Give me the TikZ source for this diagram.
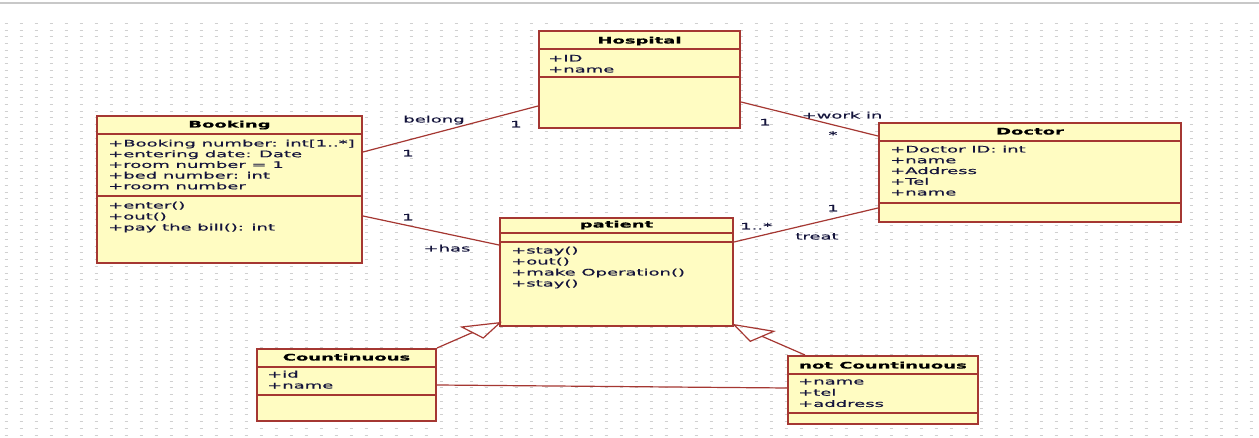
\documentclass[tikz,border=0pt]{standalone}
\usepackage{fontspec}
\newfontfamily\umlfont{DejaVu Sans}[FakeStretch=2,FakeBold=0.5]
\usetikzlibrary{calc}
\definecolor{boxred}{RGB}{165,55,50}
\definecolor{boxfill}{RGB}{255,252,194}
\definecolor{txt}{RGB}{20,20,60}
\definecolor{dotgray}{RGB}{208,208,208}
\definecolor{topgray}{RGB}{200,200,200}
\begin{document}
\begin{tikzpicture}[x=1pt,y=-1pt,
  cls/.style={draw=boxred,fill=boxfill,line width=2pt,anchor=north west,inner sep=0pt},
  sep/.style={draw=boxred,line width=1.3pt},
  conn/.style={draw=boxred,line width=1.2pt},
  ttl/.style={anchor=base,inner sep=0pt,font=\umlfont\bfseries\fontsize{9}{10}\selectfont,text=black},
  item/.style={anchor=base west,inner sep=0pt,font=\umlfont\fontsize{9}{10}\selectfont,text=txt},
  lbl/.style={anchor=base,inner sep=0pt,font=\umlfont\fontsize{9}{10}\selectfont,text=txt},
  griddot/.style={draw=dotgray,line width=1pt,dash pattern=on 3pt off 12pt}]
\useasboundingbox (0,0) rectangle (1259,438);
\fill[white] (0,0) rectangle (1259,438);
\draw[topgray,line width=1.5pt] (0,3) -- (1259,3);
\foreach \r in {0,...,61} \draw[griddot] (4.5,{23.3+6.75*\r}) -- (1259,{23.3+6.75*\r});

% class boxes
\node[cls,minimum width=201pt,minimum height=97pt] (hospital) at (538,30) {};
\node[cls,minimum width=265pt,minimum height=147pt] (booking) at (96,115) {};
\node[cls,minimum width=302pt,minimum height=99pt] (doctor) at (878,122) {};
\node[cls,minimum width=233pt,minimum height=108pt] (patient) at (499,217) {};
\node[cls,minimum width=179pt,minimum height=72pt] (cont) at (256,348) {};
\node[cls,minimum width=190pt,minimum height=68pt] (notcont) at (787,355) {};

% separators
\foreach \b/\a/\c in {hospital/19/47,booking/19/81,doctor/19/81,patient/16/25,cont/19/47,notcont/19/58}{
  \draw[sep] ($(\b.north west)+(0,\a)$) -- ($(\b.north east)+(0,\a)$);
  \draw[sep] ($(\b.north west)+(0,\c)$) -- ($(\b.north east)+(0,\c)$);
}

% titles
\node[ttl] (hospitalT) at ($(hospital.north)+(0,13.5)$) {Hospital};
\node[ttl] (bookingT) at ($(booking.north)+(0,12.5)$) {Booking};
\node[ttl] (doctorT) at ($(doctor.north)+(0,12.5)$) {Doctor};
\node[ttl] (patientT) at ($(patient.north)+(0,10.5)$) {patient};
\node[ttl] (contT) at ($(cont.north)+(0,12.5)$) {Countinuous};
\node[ttl] (notcontT) at ($(notcont.north)+(0,13.5)$) {not Countinuous};

% items
\foreach \t [count=\i] in {{+ID},{+name}}
  \node[item] (ho\i) at (548,{61.5+11*(\i-1)}) {\t};
\foreach \t [count=\i] in {{+Booking number: int[1..*]},{+entering date: Date},{+room number = 1},{+bed number: int},{+room number}}
  \node[item] (bka\i) at (108,{146.5+10.7*(\i-1)}) {\t};
\foreach \t [count=\i] in {{+enter()},{+out()},{+pay the bill(): int}}
  \node[item] (bkm\i) at (108,{208.5+11*(\i-1)}) {\t};
\foreach \t [count=\i] in {{+Doctor ID: int},{+name},{+Address},{+Tel},{+name}}
  \node[item] (do\i) at (890,{152.5+10.75*(\i-1)}) {\t};
\foreach \t [count=\i] in {{+stay()},{+out()},{+make Operation()},{+stay()}}
  \node[item] (pa\i) at (511,{253.5+11*(\i-1)}) {\t};
\foreach \t [count=\i] in {{+id},{+name}}
  \node[item] (co\i) at (267,{377.5+11*(\i-1)}) {\t};
\foreach \t [count=\i] in {{+name},{+tel},{+address}}
  \node[item] (nc\i) at (798,{384.5+11.2*(\i-1)}) {\t};

% associations
\draw[conn] ($(booking.north east)+(0,37)$) -- ($(hospital.north west)+(0,76)$);
\draw[conn] ($(booking.north east)+(0,101)$) -- ($(patient.north west)+(0,28)$);
\draw[conn] ($(hospital.north east)+(0,72)$) -- ($(doctor.north west)+(0,14)$);
\draw[conn] ($(patient.north east)+(0,25)$) -- ($(doctor.north west)+(0,86)$);
\draw[conn] ($(cont.north east)+(0,37)$) -- ($(notcont.north west)+(0,33)$);

% generalizations
\coordinate (g1tip) at ($(patient.south west)+(1,-4.3)$);
\coordinate (g1c1) at ($(patient.south west)+(-37.3,0)$);
\coordinate (g1c2) at ($(patient.south west)+(-15.7,11)$);
\coordinate (g1b) at ($(patient.south west)+(-26.5,5.5)$);
\draw[conn] (cont.north east) -- (g1b);
\draw[conn] (g1tip) -- (g1c1) -- (g1c2) -- cycle;
\coordinate (g2tip) at ($(patient.south east)+(0,-2.3)$);
\coordinate (g2c1) at ($(patient.south east)+(39.7,4.3)$);
\coordinate (g2c2) at ($(patient.south east)+(16.3,14.3)$);
\coordinate (g2b) at ($(patient.south east)+(28,9.3)$);
\draw[conn] ($(notcont.north west)+(18,0)$) -- (g2b);
\draw[conn] (g2tip) -- (g2c1) -- (g2c2) -- cycle;

% labels
\node[lbl] (lbelong) at (434,122.5) {belong};
\node[lbl] (lbh1) at (516,127.5) {1};
\node[lbl] (lbb1) at (408,156.5) {1};
\node[lbl] (lhb1) at (408,220.5) {1};
\node[lbl] (lhas) at (447,251.5) {+has};
\node[lbl] (lwh1) at (765,125.5) {1};
\node[lbl] (lwork) at (842,118.5) {+work in};
\node[lbl] (lwstar) at (833,138) {*};
\node[lbl] (ltd1) at (833,211.5) {1};
\node[item] (ltp) at (740,229.5) {1..*};
\node[lbl] (ltreat) at (817,239.5) {treat};
\end{tikzpicture}
\end{document}
